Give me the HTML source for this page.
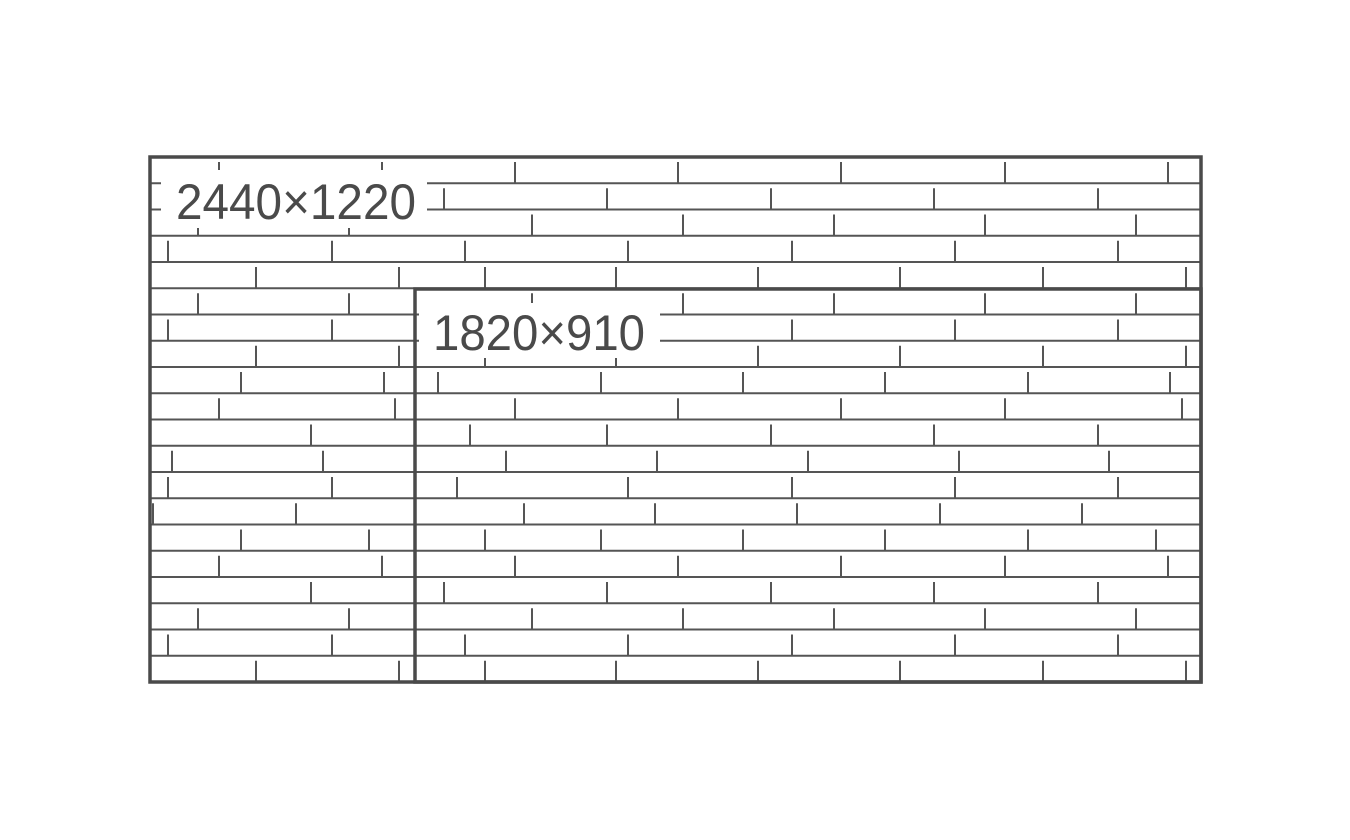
<!DOCTYPE html>
<html><head><meta charset="utf-8"><style>
html,body{margin:0;padding:0;background:#fff;}
svg{display:block}
text{font-family:"Liberation Sans",sans-serif;fill:#4a4a4a}
</style></head><body>
<svg id="s" width="1350" height="840" xmlns="http://www.w3.org/2000/svg"></svg>
<script>
const s=document.getElementById('s');
const NS='http://www.w3.org/2000/svg';
function el(n,a){const e=document.createElementNS(NS,n);for(const k in a)e.setAttribute(k,a[k]);s.appendChild(e);return e;}
const x0=150,x1=1201,y0=157,y1=682,h=(y1-y0)/20;
const ticks=[
[219,382,515,678,841,1005,1168],
[444,607,771,934,1098],
[198,349,532,683,834,985,1136],
[168,332,465,628,792,955,1118],
[256,399,485,616,758,900,1043,1186],
[198,349,532,683,834,985,1136],
[168,332,465,628,792,955,1118],
[256,399,485,616,758,900,1043,1186],
[241,384,438,601,743,885,1028,1170],
[219,395,515,678,841,1005,1182],
[311,470,607,771,934,1098],
[172,323,506,657,808,959,1109],
[168,332,457,628,792,955,1118],
[153,296,524,655,797,940,1082],
[241,369,485,601,743,885,1028,1156],
[219,382,515,678,841,1005,1168],
[311,444,607,771,934,1098],
[198,349,532,683,834,985,1136],
[168,332,465,628,792,955,1118],
[256,399,485,616,758,900,1043,1186]];
for(let i=1;i<20;i++){const y=y0+i*h;el('line',{x1:x0,x2:x1,y1:y,y2:y,stroke:'#555','stroke-width':2});}
ticks.forEach((r,i)=>{const a=y0+i*h,b=a+h;r.forEach(x=>el('line',{x1:x,x2:x,y1:a+5,y2:b,stroke:'#555','stroke-width':2}));});
el('rect',{x:161,y:170,width:266,height:58,fill:'#fff'});
el('rect',{x:419,y:303,width:241,height:55,fill:'#fff'});
el('rect',{x:x0,y:y0,width:x1-x0,height:y1-y0,fill:'none',stroke:'#4a4a4a','stroke-width':3.5});
el('rect',{x:415,y:289,width:x1-415,height:y1-289,fill:'none',stroke:'#4a4a4a','stroke-width':3.5});
let t=el('text',{x:176,y:219,'font-size':50,textLength:240,lengthAdjust:'spacingAndGlyphs'});t.textContent='2440×1220';
t=el('text',{x:433,y:350,'font-size':50,textLength:212,lengthAdjust:'spacingAndGlyphs'});t.textContent='1820×910';
</script>
</body></html>
